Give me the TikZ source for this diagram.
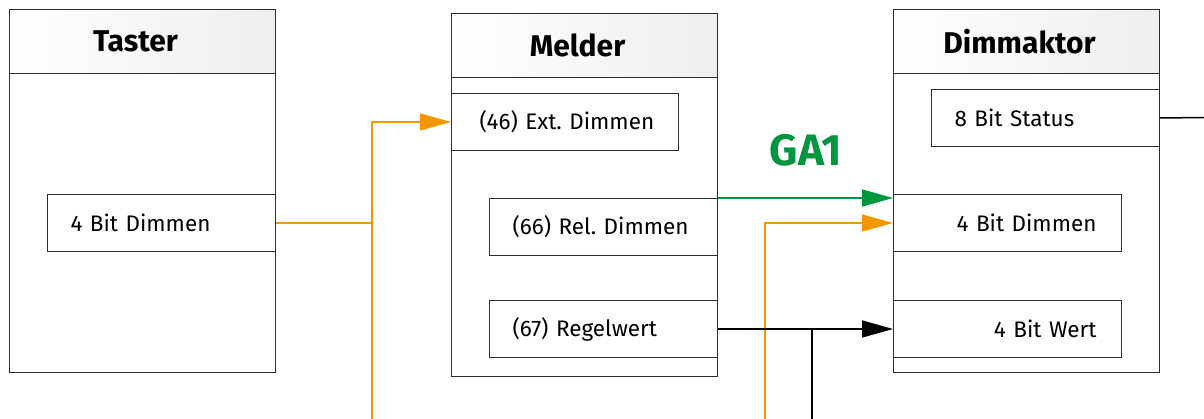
\documentclass[tikz,border=0pt]{standalone}
\usepackage{fontspec}
\setmainfont{Fira Sans}
\usetikzlibrary{arrows.meta}
\definecolor{knxorange}{RGB}{243,150,0}
\definecolor{knxgreen}{RGB}{0,150,64}
\definecolor{boxline}{RGB}{45,45,45}
\frenchspacing
\begin{document}
\begin{tikzpicture}[x=1pt,y=-1pt,
  hdr/.style={draw=boxline, line width=1pt, minimum width=266pt, minimum height=64pt,
    left color=white, right color=gray!13, anchor=north west, inner sep=0pt},
  hdrtext/.style={font=\bfseries\fontsize{30}{35}\selectfont, inner sep=0pt},
  bodybox/.style={draw=boxline, line width=1pt, minimum width=266pt, minimum height=299pt,
    anchor=north west, fill=white, inner sep=0pt},
  port/.style={draw=boxline, line width=1pt, fill=white, minimum height=57pt,
    text width=182pt, inner xsep=23pt, inner ysep=0pt, align=left, anchor=north west,
    font=\fontsize{22.5}{26}\selectfont},
  portR/.style={port, align=right, inner xsep=25pt, text width=178pt},
  conn/.style={line width=1.5pt, -{Triangle[length=31pt,width=17pt]}},
  plain/.style={line width=1.5pt}
]
\useasboundingbox (0,0) rectangle (1204,419);
% Taster
\node[hdr] (tasterH) at (9,9) {};
\node[bodybox] (tasterB) at (9,73) {};
\node[hdrtext] (tasterT) at ([xshift=-7pt]tasterH.center) {Taster};
\node[port] (tDim) at (47,194) {4 Bit Dimmen};
% Melder
\node[hdr] (melderH) at (451,13) {};
\node[bodybox] (melderB) at (451,77) {};
\node[hdrtext] (melderT) at ([xshift=-7pt]melderH.center) {Melder};
\node[port, inner xsep=28pt, text width=171pt] (ext) at (451,93) {\mbox{(46) Ext. Dimmen}};
\node[port] (rel) at (489,198) {(66) Rel. Dimmen};
\node[port] (reg) at (489,300) {(67) Regelwert};
% Dimmaktor
\node[hdr] (dimH) at (893,9) {};
\node[bodybox] (dimB) at (893,73) {};
\node[hdrtext] (dimT) at ([xshift=-7pt]dimH.center) {Dimmaktor};
\node[port] (status) at (931,89) {8 Bit Status};
\node[portR] (dDim) at (893,194) {4 Bit Dimmen};
\node[portR] (dWert) at (893,300) {4 Bit Wert};
% GA label
\node[text=knxgreen, font=\bfseries\fontsize{44}{50}\selectfont, inner sep=0pt] (ga1) at (806,150) {GA1};
% coordinates for free ends
\coordinate (o1b) at (372,419);
\coordinate (o2b) at (765,419);
\coordinate (jb) at (812,419);
\coordinate (sEnd) at (1204,117.5);
% connectors
\draw[conn, color=knxorange] (o1b) |- (ext.west);
\draw[plain, color=knxorange] (tDim.east) -- (tDim.east -| o1b);
\draw[conn, color=knxgreen] (rel.north east) -- (rel.north east -| dDim.west);
\draw[conn, color=knxorange] (o2b) |- (dDim.west);
\draw[conn, color=black] (reg.east) -- (dWert.west);
\draw[plain, color=black] (jb) -- (jb |- reg.east);
\draw[plain, color=black] (status.east) -- (sEnd);
\end{tikzpicture}
\end{document}
